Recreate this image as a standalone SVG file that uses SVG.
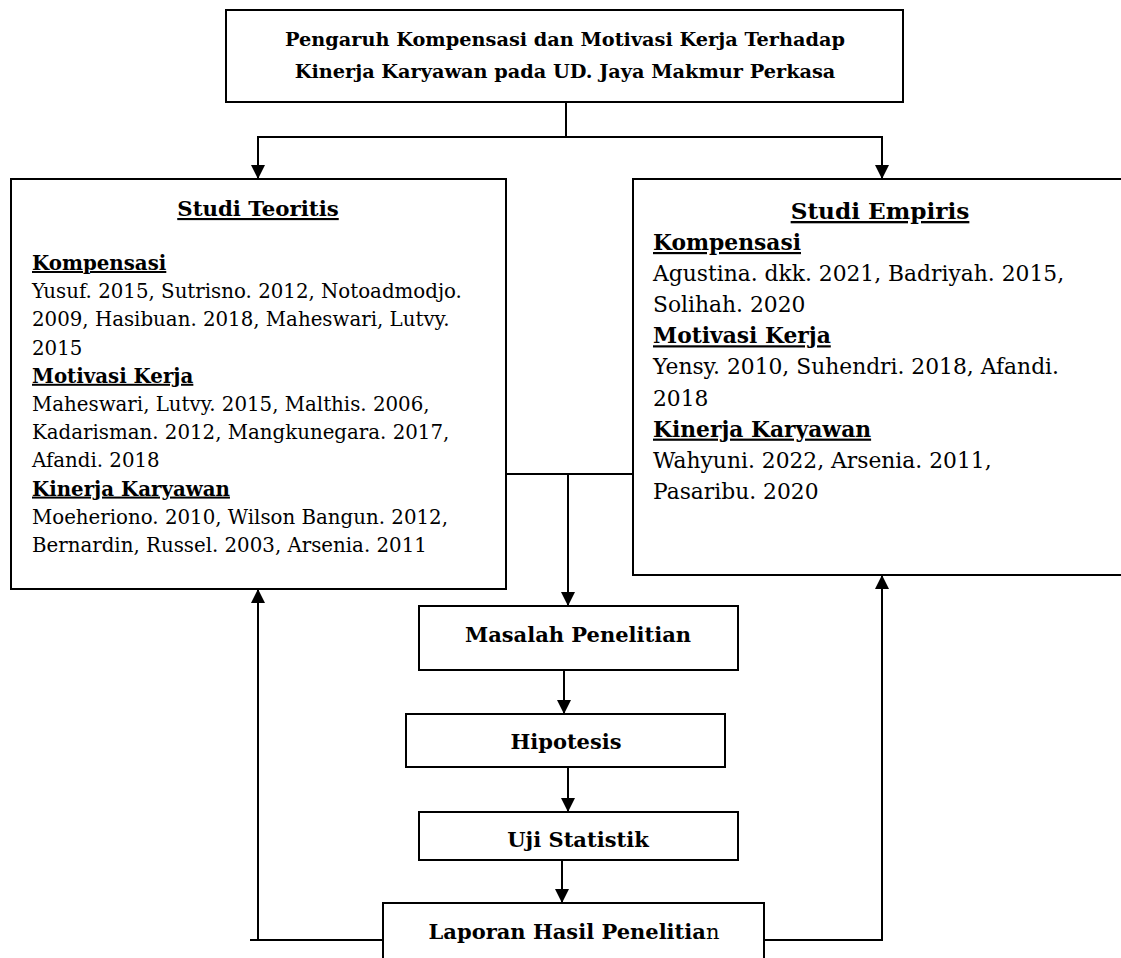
<svg xmlns="http://www.w3.org/2000/svg" width="1121" height="958" viewBox="0 0 1121 958">
<style>
.box{fill:#fff;stroke:#000;stroke-width:2}
.ln{fill:none;stroke:#000;stroke-width:2}
text{font-family:"DejaVu Serif","Liberation Serif",serif;fill:#000}
.b{font-weight:bold}
.u{text-decoration:underline}
.l{font-size:19.8px}
.r{font-size:21.8px}
.t{font-size:19.3px;font-weight:bold}
.n{font-size:21px;font-weight:bold}
</style>
<defs>
<marker id="ah" markerUnits="userSpaceOnUse" markerWidth="14" markerHeight="16" refX="14" refY="7" orient="auto" viewBox="0 0 14 14">
<path d="M0,0 L14,7 L0,14 Z" fill="#000"/>
</marker>
</defs>
<g id="connectors">
<path class="ln" d="M566,102 V137"/>
<path class="ln" d="M258,137 H882"/>
<path class="ln" d="M258,136 V179" marker-end="url(#ah)"/>
<path class="ln" d="M882,136 V179" marker-end="url(#ah)"/>
<path class="ln" d="M506,474 H633"/>
<path class="ln" d="M568,474 V606" marker-end="url(#ah)"/>
<path class="ln" d="M564,670 V714" marker-end="url(#ah)"/>
<path class="ln" d="M568,767 V812" marker-end="url(#ah)"/>
<path class="ln" d="M562,860 V903" marker-end="url(#ah)"/>
<path class="ln" d="M250,940 H383"/>
<path class="ln" d="M258,941 V589" marker-end="url(#ah)"/>
<path class="ln" d="M764,940 H882 V575" marker-end="url(#ah)"/>
</g>
<g id="title">
<rect class="box" x="226" y="10" width="677" height="92"/>
<text class="t" x="565" y="46" text-anchor="middle">Pengaruh Kompensasi dan Motivasi Kerja Terhadap</text>
<text class="t" x="565" y="78" text-anchor="middle">Kinerja Karyawan pada UD. Jaya Makmur Perkasa</text>
</g>
<g id="studi-teoritis">
<rect class="box" x="11" y="179" width="495" height="410"/>
<text class="b u" x="258" y="216" text-anchor="middle" style="font-size:21.3px">Studi Teoritis</text>
<text class="l b u" x="32" y="270">Kompensasi</text>
<text class="l" x="32" y="298.2">Yusuf. 2015, Sutrisno. 2012, Notoadmodjo.</text>
<text class="l" x="32" y="326.4">2009, Hasibuan. 2018, Maheswari, Lutvy.</text>
<text class="l" x="32" y="354.6">2015</text>
<text class="l b u" x="32" y="382.8">Motivasi Kerja</text>
<text class="l" x="32" y="411">Maheswari, Lutvy. 2015, Malthis. 2006,</text>
<text class="l" x="32" y="439.2">Kadarisman. 2012, Mangkunegara. 2017,</text>
<text class="l" x="32" y="467.4">Afandi. 2018</text>
<text class="l b u" x="32" y="495.6">Kinerja Karyawan</text>
<text class="l" x="32" y="523.8">Moeheriono. 2010, Wilson Bangun. 2012,</text>
<text class="l" x="32" y="552">Bernardin, Russel. 2003, Arsenia. 2011</text>
</g>
<g id="studi-empiris">
<rect class="box" x="633" y="179" width="500" height="396"/>
<text class="b u" x="880" y="219" text-anchor="middle" style="font-size:23.2px">Studi Empiris</text>
<text class="r b u" x="653" y="250">Kompensasi</text>
<text class="r" x="653" y="281.1">Agustina. dkk. 2021, Badriyah. 2015,</text>
<text class="r" x="653" y="312.2">Solihah. 2020</text>
<text class="r b u" x="653" y="343.3">Motivasi Kerja</text>
<text class="r" x="653" y="374.4">Yensy. 2010, Suhendri. 2018, Afandi.</text>
<text class="r" x="653" y="405.5">2018</text>
<text class="r b u" x="653" y="436.6">Kinerja Karyawan</text>
<text class="r" x="653" y="467.7">Wahyuni. 2022, Arsenia. 2011,</text>
<text class="r" x="653" y="498.8">Pasaribu. 2020</text>
</g>
<g id="masalah">
<rect class="box" x="419" y="606" width="319" height="64"/>
<text class="n" x="578" y="642" text-anchor="middle">Masalah Penelitian</text>
</g>
<g id="hipotesis">
<rect class="box" x="406" y="714" width="319" height="53"/>
<text class="n" x="566" y="749" text-anchor="middle">Hipotesis</text>
</g>
<g id="uji">
<rect class="box" x="419" y="812" width="319" height="48"/>
<text class="n" x="578" y="847" text-anchor="middle">Uji Statistik</text>
</g>
<g id="laporan">
<rect class="box" x="383" y="903" width="381" height="70"/>
<text class="n" x="574" y="939" text-anchor="middle">Laporan Hasil Penelitia<tspan style="font-weight:normal">n</tspan></text>
</g>
</svg>
